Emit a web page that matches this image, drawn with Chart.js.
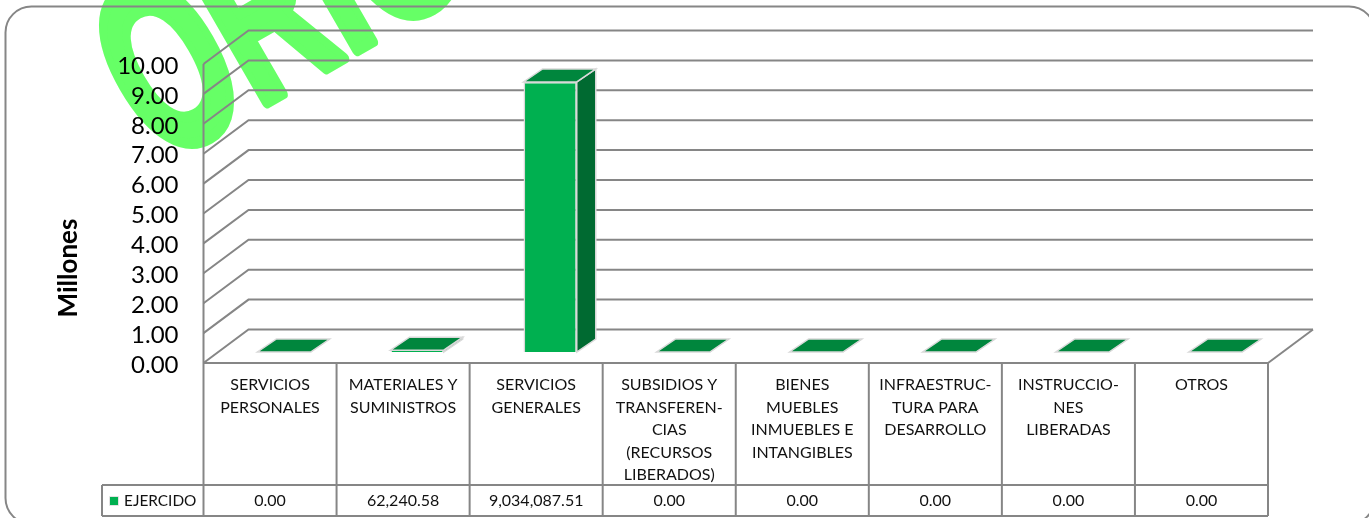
<!DOCTYPE html>
<html>
<head>
<meta charset="utf-8">
<title>Ejercido</title>
<script src="https://cdn.jsdelivr.net/npm/chart.js@4"></script>
<style>
html, body { margin: 0; padding: 0; background: #fff; overflow: hidden; }
canvas { display: block; }
</style>
</head>
<body>
<canvas id="bar-chart" width="1369" height="518"></canvas>
<script>
var categories = [
	["SERVICIOS", "PERSONALES"],
	["MATERIALES Y", "SUMINISTROS"],
	["SERVICIOS", "GENERALES"],
	["SUBSIDIOS Y", "TRANSFEREN-", "CIAS", "(RECURSOS", "LIBERADOS)"],
	["BIENES", "MUEBLES", "INMUEBLES E", "INTANGIBLES"],
	["INFRAESTRUC-", "TURA PARA", "DESARROLLO"],
	["INSTRUCCIO-", "NES", "LIBERADAS"],
	["OTROS"]
];
var ejercido = [0, 62240.58, 9034087.51, 0, 0, 0, 0, 0];
var seriesName = "EJERCIDO";
var axisTitle = "Millones";
var watermark = "ORIGINAL";

var lineColor = "#868686";
var fontName = "Lato, Carlito, sans-serif";

// profundidad del piso y de las barras
var wallDx = 45, wallDy = 33.5;
var barShiftX = 14, barShiftY = 11;
var barDx = 19, barDy = 13;

function line(ctx, x1, y1, x2, y2) {
	ctx.beginPath();
	ctx.moveTo(x1, y1);
	ctx.lineTo(x2, y2);
	ctx.stroke();
}

function quad(ctx, pts, fill) {
	ctx.beginPath();
	ctx.moveTo(pts[0], pts[1]);
	ctx.lineTo(pts[2], pts[3]);
	ctx.lineTo(pts[4], pts[5]);
	ctx.lineTo(pts[6], pts[7]);
	ctx.closePath();
	ctx.fillStyle = fill;
	ctx.fill();
	ctx.strokeStyle = "#d9d9d9";
	ctx.lineWidth = 1.5;
	ctx.stroke();
}

var scene3d = {
	id: "scene3d",
	beforeDraw: function(chart) {
		var ctx = chart.ctx;
		var area = chart.chartArea;
		var yScale = chart.scales.y;

		ctx.save();
		ctx.fillStyle = "#fff";
		ctx.fillRect(0, 0, chart.width, chart.height);

		// marca de agua
		ctx.save();
		ctx.translate(160, 164);
		ctx.rotate(-30 * Math.PI / 180);
		ctx.scale(0.78, 1.31);
		ctx.fillStyle = "#66ff66";
		ctx.strokeStyle = "#66ff66";
		ctx.lineWidth = 9;
		ctx.lineJoin = "round";
		ctx.font = "bold 185px 'Liberation Sans'";
		ctx.textBaseline = "alphabetic";
		ctx.textAlign = "left";
		ctx.fillText(watermark, 0, 0);
		ctx.strokeText(watermark, 0, 0);
		ctx.restore();

		// marco redondeado
		ctx.strokeStyle = lineColor;
		ctx.lineWidth = 2;
		ctx.beginPath();
		ctx.roundRect(5.5, 6.5, 1369.5, 517.5, 26);
		ctx.stroke();

		// lineas de la pared y del piso
		ctx.lineWidth = 2;
		ctx.strokeStyle = lineColor;
		yScale.ticks.forEach(function(tick) {
			var y = yScale.getPixelForValue(tick.value);
			ctx.beginPath();
			ctx.moveTo(area.left, y);
			ctx.lineTo(area.left + wallDx, y - wallDy);
			ctx.lineTo(area.right + wallDx, y - wallDy);
			ctx.stroke();
		});
		line(ctx, area.left, area.top, area.left, area.bottom);
		line(ctx, area.left, area.bottom, area.right, area.bottom);
		line(ctx, area.right, area.bottom, area.right + wallDx, area.bottom - wallDy);
		ctx.restore();
	},
	beforeDatasetDraw: function(chart, args) {
		var ctx = chart.ctx;
		ctx.save();
		ctx.translate(barShiftX, -barShiftY);
		args.meta.data.forEach(function(bar) {
			var p = bar.getProps(["x", "y", "base", "width"], true);
			var l = p.x - p.width / 2, r = p.x + p.width / 2;
			quad(ctx, [r, p.y, r + barDx, p.y - barDy, r + barDx, p.base - barDy, r, p.base], "#006a31");
			quad(ctx, [l, p.y, r, p.y, r + barDx, p.y - barDy, l + barDx, p.y - barDy], "#00863d");
		});
	},
	afterDatasetDraw: function(chart) {
		chart.ctx.restore();
	},
	afterDraw: function(chart) {
		var ctx = chart.ctx;
		var area = chart.chartArea;
		var xScale = chart.scales.x;
		var rowTop = 485, rowBottom = 516, rowLeft = 102;
		var step = (area.right - area.left) / categories.length;

		ctx.save();
		ctx.strokeStyle = lineColor;
		ctx.lineWidth = 2;
		for (var i = 0; i <= categories.length; i++) {
			var x = area.left + step * i;
			line(ctx, x, area.bottom, x, rowBottom);
		}
		line(ctx, rowLeft, rowTop, area.right, rowTop);
		line(ctx, rowLeft, rowBottom, area.right, rowBottom);
		line(ctx, rowLeft, rowTop, rowLeft, rowBottom);

		ctx.fillStyle = "#111";
		ctx.font = "16px " + fontName;
		ctx.textBaseline = "middle";
		ctx.textAlign = "center";
		ejercido.forEach(function(v, idx) {
			var txt = v.toLocaleString("en-US", { minimumFractionDigits: 2, maximumFractionDigits: 2 });
			ctx.fillText(txt, xScale.getPixelForValue(idx), 501);
		});

		// leyenda
		ctx.textAlign = "left";
		ctx.font = "15.4px " + fontName;
		ctx.fillText(seriesName, 124, 501);
		ctx.fillStyle = "#00b050";
		ctx.strokeStyle = "#d9d9d9";
		ctx.lineWidth = 1.5;
		ctx.strokeRect(110, 497, 8, 8);
		ctx.fillRect(110, 497, 8, 8);

		// titulo del eje
		ctx.translate(69, 268);
		ctx.rotate(-Math.PI / 2);
		ctx.textAlign = "center";
		ctx.fillStyle = "#000";
		ctx.font = "bold 26px " + fontName;
		ctx.fillText(axisTitle, 0, 0);
		ctx.restore();
	}
};

window.addEventListener("load", function(event) {
	var context = document.getElementById("bar-chart").getContext("2d");
	var chart = new Chart(context, {
		type: "bar",
		data: {
			labels: categories,
			datasets: [{
				label: seriesName,
				data: ejercido,
				backgroundColor: "#00b050",
				borderColor: "#d9d9d9",
				borderWidth: 1.5,
				barPercentage: 0.4,
				categoryPercentage: 1
			}]
		},
		plugins: [scene3d],
		options: {
			responsive: false,
			animation: false,
			layout: { padding: { left: 0, right: 101, top: 64, bottom: 0 } },
			plugins: { legend: { display: false }, tooltip: { enabled: false } },
			scales: {
				x: {
					grid: { display: false, drawTicks: false },
					border: { display: false },
					afterFit: function(scale) { scale.height = 155; },
					ticks: {
						autoSkip: false,
						maxRotation: 0,
						padding: 11,
						color: "#111",
						font: { family: fontName, size: 16, lineHeight: 1.4 }
					}
				},
				y: {
					min: 0,
					max: 10000000,
					grid: { display: false, drawTicks: false },
					border: { display: false },
					afterFit: function(scale) { scale.width = 203.5; },
					ticks: {
						stepSize: 1000000,
						autoSkip: false,
						padding: 25,
						labelOffset: 2,
						color: "#000",
						font: { family: fontName, size: 24 },
						callback: function(value) { return (value / 1000000).toFixed(2); }
					}
				}
			}
		}
	});
});
</script>
</body>
</html>
